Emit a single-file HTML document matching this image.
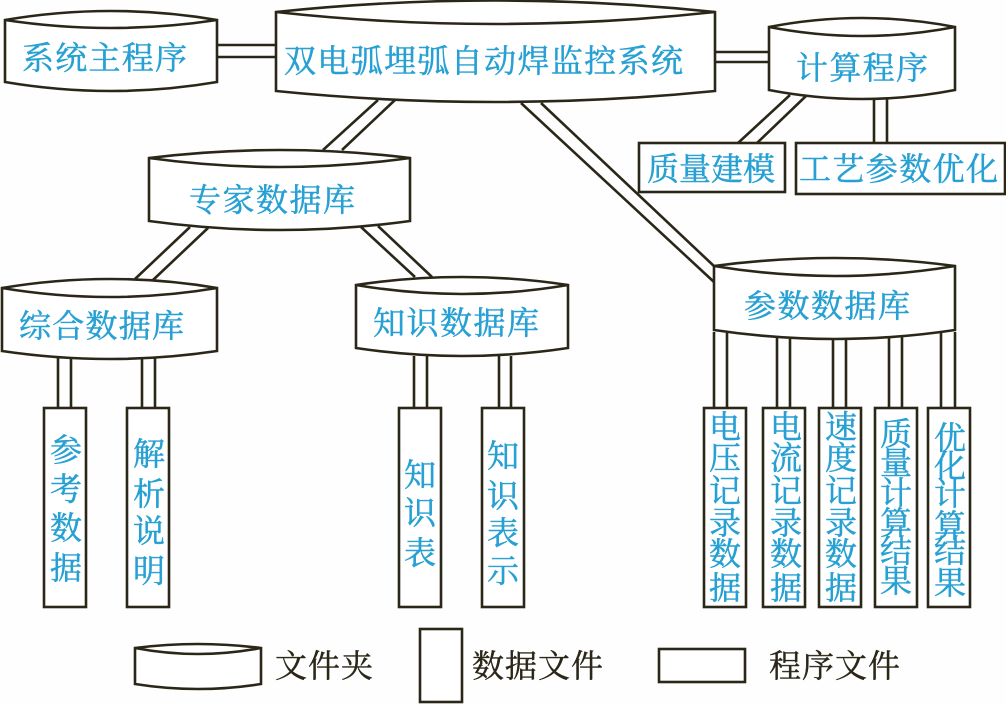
<!DOCTYPE html>
<html lang="zh">
<head>
<meta charset="utf-8">
<title>双电弧埋弧自动焊监控系统</title>
<style>
html,body{margin:0;padding:0;background:#fff;}
svg{display:block;}
.l{stroke:#2b2718;stroke-width:2.6;fill:none;}
.s{stroke:#2b2718;stroke-width:2.6;fill:#fff;stroke-linejoin:miter;}
text{font-family:"Liberation Serif","Noto Serif CJK SC",serif;}
.b{fill:#27a0d3;font-size:32px;stroke:#27a0d3;stroke-width:.5;}
.h{fill:#27a0d3;font-size:32px;stroke:#27a0d3;stroke-width:.5;}
.k{fill:#2b2718;font-size:32px;stroke:#2b2718;stroke-width:.4;}
</style>
</head>
<body>
<svg width="1006" height="704" viewBox="0 0 1006 704" xmlns="http://www.w3.org/2000/svg">
<rect width="1006" height="704" fill="#fefefe"/>

<!-- connectors -->
<path class="l" d="M217 45H276M217 57H276M715 52H769M715 62H769"/>
<path class="l" d="M378 100L323 150M395 100L342 150"/>
<path class="l" d="M190 227L135 279M208 228L153 280"/>
<path class="l" d="M361 227L415 277M378 226L432 277"/>
<path class="l" d="M521 103L714 282M541 103L715 267"/>
<path class="l" d="M790 95L738 143M806 96L757 143"/>
<path class="l" d="M874 99V143M887 99V143"/>
<path class="l" d="M58 358V408M71 358V408M142 358V408M155 358V408"/>
<path class="l" d="M414 356V408M427 356V408M499 356V408M511 356V408"/>
<path class="l" d="M714 332V408M727 332V408M777 335V408M790 335V408M833 337V408M846 337V408M889 337V408M902 337V408M941 333V408M955 332V408"/>

<!-- cylinders -->
<path class="s" d="M5 20Q111 2 217 20V82Q111 100 5 82Z"/><path class="l" d="M5 20Q111 36 217 20"/>
<path class="s" d="M276 12Q495 -11 715 12V91Q495 113 276 91Z"/><path class="l" d="M276 12Q495 36 715 12"/>
<path class="s" d="M769 27Q862 9 955 27V90Q862 108 769 90Z"/><path class="l" d="M769 27Q862 45 955 27"/>
<path class="s" d="M149 158Q280 142 410 158V221Q280 239 149 221Z"/><path class="l" d="M149 158Q280 176 410 158"/>
<path class="s" d="M2 288Q110 270 217 288V351Q110 367 2 351Z"/><path class="l" d="M2 288Q110 306 217 288"/>
<path class="s" d="M356 285Q462 269 568 285V348Q462 364 356 348Z"/><path class="l" d="M356 285Q462 303 568 285"/>
<path class="s" d="M714 266Q835 250 955 266V330Q835 348 714 330Z"/><path class="l" d="M714 266Q835 286 955 266"/>

<!-- boxes -->
<rect class="s" x="639" y="143" width="146" height="49"/>
<rect class="s" x="796" y="143" width="209" height="51"/>
<rect class="s" x="44" y="408" width="42" height="199"/>
<rect class="s" x="127" y="408" width="42" height="199"/>
<rect class="s" x="399" y="408" width="42" height="199"/>
<rect class="s" x="482" y="408" width="42" height="199"/>
<rect class="s" x="704" y="408" width="42" height="199"/>
<rect class="s" x="763" y="408" width="42" height="199"/>
<rect class="s" x="819" y="408" width="42" height="199"/>
<rect class="s" x="875" y="408" width="42" height="199"/>
<rect class="s" x="928" y="408" width="42" height="199"/>

<!-- legend -->
<path class="s" d="M135 648Q198 640 261 648V684Q198 694 135 684Z"/><path class="l" d="M135 648Q198 660 261 648"/>
<rect class="s" x="420" y="629" width="42" height="73"/>
<rect class="s" x="659" y="649" width="86" height="33"/>

<!-- horizontal labels -->
<text class="h" x="22" y="69" textLength="165" lengthAdjust="spacing">系统主程序</text>
<text class="h" x="284" y="72" textLength="399" lengthAdjust="spacing">双电弧埋弧自动焊监控系统</text>
<text class="h" x="796" y="79" textLength="132" lengthAdjust="spacing">计算程序</text>
<text class="h" x="189" y="211" textLength="166" lengthAdjust="spacing">专家数据库</text>
<text class="h" x="19" y="337" textLength="165" lengthAdjust="spacing">综合数据库</text>
<text class="h" x="373" y="334" textLength="166" lengthAdjust="spacing">知识数据库</text>
<text class="h" x="744" y="317" textLength="166" lengthAdjust="spacing">参数数据库</text>
<text class="h" x="647" y="180" textLength="128" lengthAdjust="spacing">质量建模</text>
<text class="h" x="799" y="180" textLength="199" lengthAdjust="spacing">工艺参数优化</text>

<!-- vertical labels -->
<g class="b" text-anchor="middle">
<text class="b" x="66 66 66 66" y="461 500 539 579">参考数据</text>
<text class="b" x="149 149 149 149" y="465 505 542 582">解析说明</text>
<text class="b" x="420 420 420" y="486 524 564">知识表</text>
<text class="b" x="503 503 503 503" y="467 507 544 582">知识表示</text>
<text class="b" x="725 725 725 725 725 725" y="438 469 502 534 565 599">电压记录数据</text>
<text class="b" x="786 786 786 786 786 786" y="438 469 502 534 565 599">电流记录数据</text>
<text class="b" x="841 841 841 841 841 841" y="438 469 502 534 565 599">速度记录数据</text>
<text class="b" x="896 896 896 896 896 896" y="445 474 504 534 562 592">质量计算结果</text>
<text class="b" x="950 950 950 950 950 950" y="449 477 505 537 562 594">优化计算结果</text>
</g>

<!-- legend labels -->
<text class="k" x="275" y="677" textLength="98" lengthAdjust="spacing">文件夹</text>
<text class="k" x="472" y="677" textLength="131" lengthAdjust="spacing">数据文件</text>
<text class="k" x="769" y="677" textLength="131" lengthAdjust="spacing">程序文件</text>
</svg>
</body>
</html>
